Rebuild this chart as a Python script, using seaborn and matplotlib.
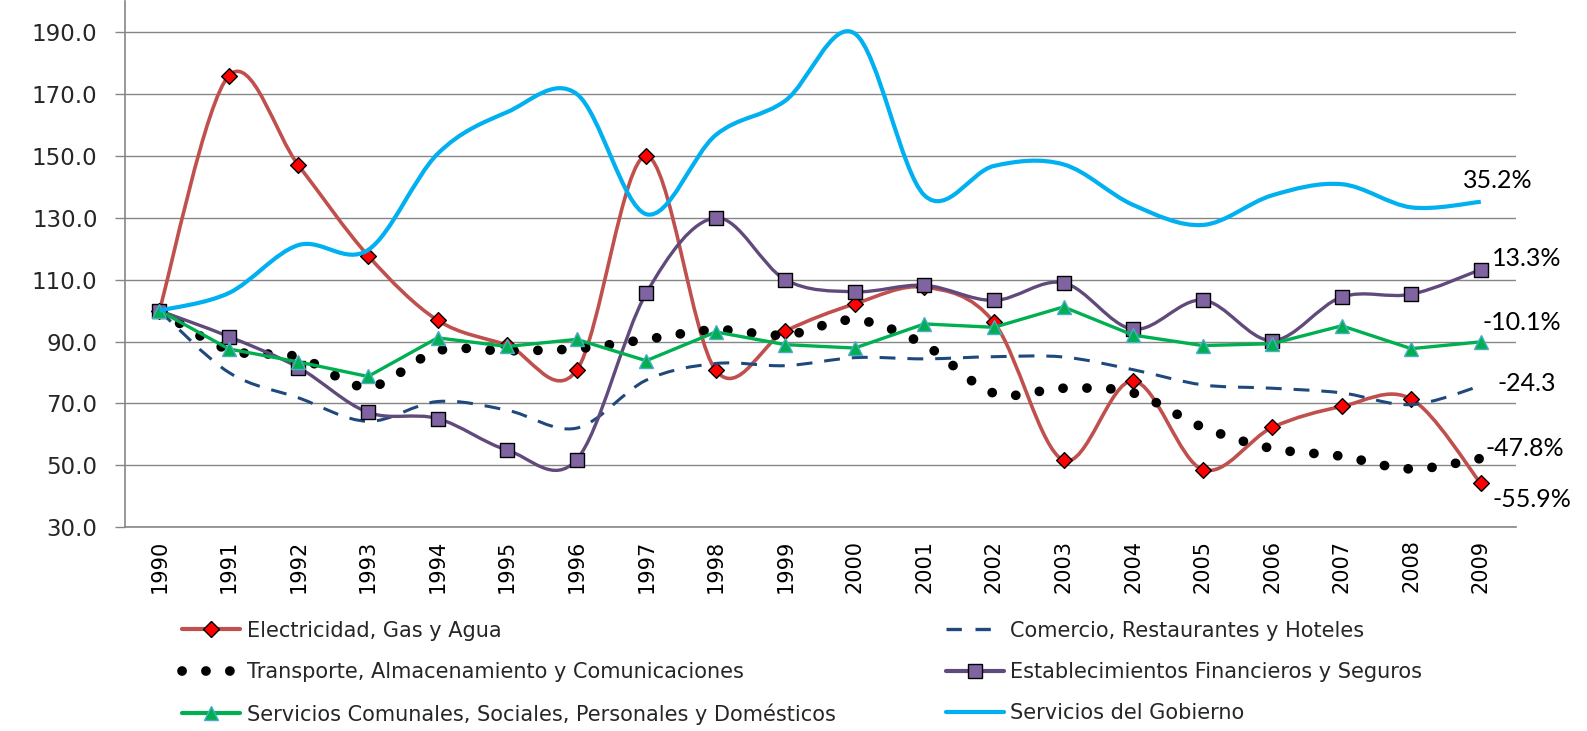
import numpy as np
import matplotlib
matplotlib.use("Agg")
import matplotlib.pyplot as plt
from matplotlib.path import Path
from matplotlib.patches import PathPatch
from matplotlib.lines import Line2D
import seaborn as sns

# data (index 1990 = 100)
years = ["1990", "1991", "1992", "1993", "1994", "1995", "1996", "1997", "1998", "1999",
         "2000", "2001", "2002", "2003", "2004", "2005", "2006", "2007", "2008", "2009"]
electricidad = [100.0, 176.0, 147.0, 117.8, 96.9, 88.8, 80.7, 150.0, 80.7, 93.4,
                102.2, 107.6, 96.2, 51.6, 77.3, 48.6, 62.2, 69.0, 71.4, 44.1]
comercio = [100.0, 80.0, 71.8, 64.2, 70.6, 67.8, 62.0, 77.5, 82.9, 82.2,
            84.8, 84.4, 85.1, 85.0, 80.9, 76.0, 74.9, 73.4, 69.6, 75.7]
transporte = [100.0, 87.3, 85.0, 75.3, 87.0, 87.0, 87.7, 90.7, 93.8, 92.1,
              97.0, 89.0, 73.3, 74.9, 73.4, 62.3, 55.4, 52.9, 48.8, 52.2]
establecimientos = [100.0, 91.6, 81.6, 67.1, 65.1, 54.9, 51.8, 105.6, 130.0, 110.0,
                    106.1, 108.2, 103.3, 109.0, 94.0, 103.4, 90.3, 104.4, 105.3, 113.3]
comunales = [100.0, 87.6, 83.4, 78.7, 91.2, 88.4, 90.7, 83.8, 93.1, 89.0,
             87.9, 95.7, 94.6, 101.2, 92.1, 88.7, 89.3, 95.1, 87.7, 89.9]
gobierno = [100.0, 105.7, 121.2, 119.6, 150.7, 164.2, 170.1, 131.2, 156.8, 167.9,
            189.6, 137.3, 146.8, 147.3, 134.2, 127.7, 137.3, 140.9, 133.4, 135.2]
names = ["Electricidad, Gas y Agua", "Comercio, Restaurantes y Hoteles",
         "Transporte, Almacenamiento y Comunicaciones", "Establecimientos Financieros y Seguros",
         "Servicios Comunales, Sociales, Personales y Domésticos", "Servicios del Gobierno"]
end_labels = ["35.2%", "13.3%", "-10.1%", "-24.3", "-47.8%", "-55.9%"]

sns.set_theme(style="white")
plt.rcParams["font.family"] = ["DejaVu Sans"]

xi = np.arange(len(years))


def smooth_path(y):
    # excel-like smoothed line: cubic bezier through the points
    y = np.asarray(y, float)
    n = len(y)
    x = np.arange(n, dtype=float)
    verts = [(x[0], y[0])]
    codes = [Path.MOVETO]
    for i in range(n - 1):
        a = max(i - 1, 0)
        b = min(i + 2, n - 1)
        verts.append((x[i] + (x[i + 1] - x[a]) / 6, y[i] + (y[i + 1] - y[a]) / 6))
        verts.append((x[i + 1] - (x[b] - x[i]) / 6, y[i + 1] - (y[b] - y[i]) / 6))
        verts.append((x[i + 1], y[i + 1]))
        codes += [Path.CURVE4] * 3
    return Path(verts, codes)


fig = plt.figure(figsize=(15.87, 7.31), dpi=100)
ax = fig.add_axes([0.0785, 0.279, 0.8765, 0.719])

grid_c = "#868686"
dash = (0, (5.2, 3.9))
dots = (0, (0.01, 2.45))

# Electricidad
ax.add_patch(PathPatch(smooth_path(electricidad), fill=False, edgecolor="#C0504D", lw=2.6, zorder=3))
sns.scatterplot(x=xi, y=electricidad, marker="D", s=64, color="#FF0000", edgecolor="black",
                linewidth=1, zorder=4, ax=ax, legend=False)
# Comercio
ax.add_patch(PathPatch(smooth_path(comercio), fill=False, edgecolor="#1F497D", lw=2.2,
                       linestyle=dash, zorder=5))
# Transporte
ax.add_patch(PathPatch(smooth_path(transporte), fill=False, edgecolor="black", lw=7.0,
                       linestyle=dots, capstyle="round", zorder=6))
# Establecimientos
ax.add_patch(PathPatch(smooth_path(establecimientos), fill=False, edgecolor="#604A7B", lw=2.4, zorder=7))
sns.scatterplot(x=xi, y=establecimientos, marker="s", s=90, color="#8064A2", edgecolor="black",
                linewidth=1, zorder=8, ax=ax, legend=False)
# Servicios comunales (straight line)
sns.lineplot(x=xi, y=comunales, color="#00B050", lw=2.4, marker="^", ms=10, mfc="#00B050",
             mec="#4BACC6", mew=1, errorbar=None, ax=ax, legend=False, zorder=9)
# Gobierno
ax.add_patch(PathPatch(smooth_path(gobierno), fill=False, edgecolor="#00B0F0", lw=3.0, zorder=10))

# end labels
lab_pos = [(19.25, 142.2), (19.66, 117.0), (19.59, 96.3), (19.66, 76.5), (19.63, 55.5), (19.74, 39.0)]
for txt, (lx, ly) in zip(end_labels, lab_pos):
    ax.text(lx, ly, txt, ha="center", va="center", fontsize=18, family="Lato", color="black")

ax.set_xlim(-0.5, len(years) - 0.5)
ax.set_ylim(30, 200)
ax.set_yticks(np.arange(30, 191, 20))
ax.set_yticklabels([f"{v:.1f}" for v in np.arange(30, 191, 20)])
ax.yaxis.grid(True, color=grid_c, lw=1.0)
ax.set_axisbelow(True)
ax.set_xticks(xi)
ax.set_xticklabels(years, rotation=90)
ax.set_xticks(np.arange(-0.5, len(years)), minor=True)
ax.tick_params(axis="x", which="major", length=0, pad=9, labelsize=15, colors="black")
ax.tick_params(axis="x", which="minor", length=6, width=1, color=grid_c)
ax.tick_params(axis="y", length=7.5, width=1, color=grid_c, pad=12, labelsize=16.5, left=True)
for s in ["top", "right"]:
    ax.spines[s].set_visible(False)
for s in ["left", "bottom"]:
    ax.spines[s].set_color(grid_c)
    ax.spines[s].set_linewidth(1.2)

handles = [
    Line2D([], [], color="#C0504D", lw=3, marker="D", ms=8, mfc="#FF0000", mec="black"),
    Line2D([], [], color="#1F497D", lw=2.4, linestyle=(0, (4.6, 4.1))),
    Line2D([], [], color="black", lw=7.0, linestyle=dots, dash_capstyle="round"),
    Line2D([], [], color="#604A7B", lw=3, marker="s", ms=9.5, mfc="#8064A2", mec="black"),
    Line2D([], [], color="#00B050", lw=3, marker="^", ms=10, mfc="#00B050", mec="#4BACC6"),
    Line2D([], [], color="#00B0F0", lw=3),
]
order = [0, 2, 4, 1, 3, 5]
fig.legend([handles[i] for i in order], [names[i] for i in order], ncol=2, loc="upper left",
           bbox_to_anchor=(0.1147, 0.151), frameon=False, fontsize=15, handlelength=2.8,
           handletextpad=0.3, columnspacing=5.3, labelspacing=1.02, borderpad=0, borderaxespad=0)

fig.savefig("out.png", dpi=100)
